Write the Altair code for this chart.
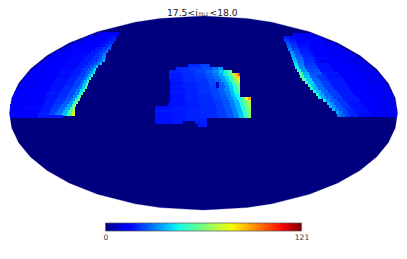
import altair as alt
import pandas as pd

# Colour map stops of the scale (fraction of the range, colour)
VMAX = 121
JET_T = [0, .11, .125, .34, .35, .375, .64, .66, .89, .91, 1]
JET_C = ["#000080", "#0000ff", "#0000ff", "#00dbff", "#00e6f7", "#14ffe3",
         "#f0ff08", "#ffed00", "#ff1200", "#e80000", "#800000"]

# Each row: first pixel line, then x, value, x, value, ..., last x
LEFT = [
 (32, 97,11,106,13,112,15,119),
 (35, 88,11,97,13,105,15,111,17,117),
 (38, 81,12,90,13,100,15,107,17,112,19,116),
 (41, 74,11,84,13,95,15,103,17,109,20,114),
 (44, 67,12,78,13,90,15,99,17,105,20,109,24,112),
 (47, 62,11,72,14,85,15,95,18,102,21,107,26,111),
 (50, 56,12,67,13,80,15,91,18,98,21,103,25,106,29,108),
 (53, 51,12,63,14,76,16,88,18,95,21,100,25,103,30,106),
 (56, 47,12,59,14,72,16,85,18,93,21,99,25,102,31,106),
 (59, 43,13,55,14,70,16,83,18,91,21,97,25,101,30,103,37,105),
 (62, 39,12,51,14,67,16,80,18,88,21,94,25,98,31,100,38,102),
 (65, 35,13,48,14,64,16,77,18,85,21,90,25,94,31,96,39,98),
 (68, 32,12,46,15,62,16,75,19,83,22,88,26,92,33,94,42,96),
 (71, 29,13,43,14,60,17,73,18,81,22,86,27,90,34,93,44,95),
 (74, 26,12,41,15,58,16,71,19,79,22,85,27,88,35,91,47,93),
 (77, 24,13,39,14,56,17,69,19,77,23,83,28,86,36,89,48,91),
 (80, 21,12,37,15,54,17,67,19,75,23,81,28,84,37,87,50,89),
 (83, 19,13,35,15,52,17,65,19,74,23,80,29,83,39,86,52,88),
 (86, 17,12,34,15,50,17,63,20,72,23,78,29,82,40,85,54,87),
 (89, 16,13,32,15,49,17,61,20,70,24,76,30,80,41,83,55,85),
 (92, 14,13,30,15,47,18,59,20,68,24,75,31,79,43,81,56,83),
 (95, 13,13,30,15,46,17,58,20,67,24,73,32,77,44,79,58,81),
 (98, 12,12,28,15,45,18,56,21,65,25,71,32,75,46,78,60,80),
 (101, 11,13,28,15,44,18,55,21,63,26,69,33,73,47,76,62,78),
 (104, 10,13,27,15,43,18,53,22,61,27,67,35,72,50,74,64,76),
 (107, 10,13,26,16,42,18,51,22,59,28,65,36,70,52,73,68,75),
 (110, 10,13,26,15,40,18,50,23,57,28,63,37,68,52,72,70,75),
 (113, 10,13,25,15,38,19,49,23,55,29,61,38,67,54,72,74,75),
 (115, 10,13,24,15,38,18,63),
]
RIGHT = [
 (33, 293,14,300,13,307,12,313),
 (36, 283,18,289,16,297,14,308,12,321),
 (39, 284,22,289,18,296,15,310,13,327),
 (42, 286,25,290,20,297,16,310,14,322,12,335),
 (45, 287,27,291,21,298,17,310,14,325,12,341),
 (48, 288,30,292,23,299,18,309,15,327,12,346),
 (51, 290,32,294,24,300,18,311,15,330,12,352),
 (54, 291,34,295,25,302,19,313,15,333,12,357),
 (57, 292,36,296,27,303,20,315,16,328,13,345,11,361),
 (60, 293,38,297,28,304,20,315,16,321,6,324,14,345,11,365),
 (63, 294,42,298,30,304,22,316,17,330,14,350,11,369),
 (66, 295,44,299,31,305,23,318,17,332,14,352,12,372),
 (69, 297,48,301,33,307,24,320,17,335,14,355,11,376),
 (72, 299,52,303,36,309,25,322,18,338,14,358,12,379),
 (75, 300,54,304,38,310,26,317,21,326,17,342,14,361,11,381),
 (78, 302,56,306,40,312,27,319,21,328,18,344,14,363,12,384),
 (81, 305,52,308,40,314,28,321,22,330,18,346,14,365,11,386),
 (84, 308,50,311,38,316,28,323,22,332,18,348,15,367,12,388),
 (87, 310,48,313,37,318,28,325,22,334,18,350,14,368,12,390),
 (90, 313,46,316,37,321,28,328,22,337,18,352,15,370,12,392),
 (93, 316,46,319,35,324,27,331,22,340,18,355,14,372,12,393),
 (96, 318,44,321,35,326,27,333,22,342,18,357,15,374,12,394),
 (99, 323,44,326,33,330,26,337,21,345,18,360,14,376,12,395),
 (102, 327,40,330,32,334,25,340,21,348,17,362,15,378,12,396),
 (105, 329,38,332,31,336,25,342,21,350,17,365,14,380,12,396),
 (108, 332,37,335,30,339,24,345,20,353,17,368,14,382,12,397),
 (111, 336,35,339,28,343,23,348,19,356,17,370,14,384,12,397),
 (114, 337,30,341,26,345,22,350,19,358,16,372,14,386,12,397),
]
CENTER = [
 (64, 188,20,200,23,210),
 (67, 176,20,190,22,202,24,212,28,218,33,223),
 (70, 169,19,182,21,195,23,206,27,213,32,219,39,224,48,229,58,232),
 (73, 169,18,181,20,194,22,205,25,212,29,218,35,223,44,228,56,232,70,235,85,238,102,240),
 (76, 169,18,183,20,196,22,207,25,214,28,220,34,225,42,229,52,233,65,236,82,240),
 (79, 170,18,182,20,195,21,208,24,215,27,221,33,226,40,230,50,234,62,238,74,240),
 (82, 170,17,184,19,197,21,209,24,216,7,219,27,224,33,228,40,232,50,236,62,240),
 (85, 170,18,183,19,196,21,209,23,216,7,219,26,225,32,229,39,233,48,237,60,240),
 (88, 170,17,185,19,198,21,210,23,218,26,224,31,229,38,233,47,237,57,240),
 (91, 170,18,184,19,197,21,211,23,219,26,225,30,230,37,234,46,238,55,240),
 (94, 170,17,185,19,198,20,212,23,220,26,226,30,231,37,235,44,239,52,240),
 (97, 170,17,184,19,199,20,213,23,221,25,228,31,233,38,237,46,241,60,245,76,248,88,251),
 (100, 170,17,185,19,198,20,214,22,222,25,229,30,234,37,239,47,243,60,247,70,251),
 (103, 168,17,184,18,199,20,215,22,223,25,230,30,235,37,240,47,244,58,248,66,251),
 (106, 155,17,172,18,186,19,201,20,216,22,224,25,231,30,236,37,241,47,245,58,249,66,251),
 (109, 155,18,171,18,187,19,200,20,217,22,225,25,232,30,237,37,242,48,246,58,250,68,251),
 (112, 155,17,173,18,186,19,201,20,217,22,226,25,233,30,238,38,243,48,247,60,251),
 (115, 155,17,172,18,187,19,200,20,218,22,227,25,234,30,239,38,244,50,248,62,251),
 (118, 155,17,172,18,186,19,207),
 (121, 155,17,172,18,183),
 (121, 195,18,207),
 (124, 198,18,207),
]
TITLE_MAIN = "17.5<i"
TITLE_SUB = "fib2"
TITLE_END = "<18.0"
CBAR_TICKS = [0, VMAX]

def cells(rows):
    out = []
    for r in rows:
        y, rest = r[0], r[1:]
        for i in range(0, len(rest) - 1, 2):
            out.append({"x": rest[i], "x2": rest[i + 2], "y": y, "y2": y + 3, "v": rest[i + 1]})
    return out

df = pd.DataFrame(cells(LEFT) + cells(RIGHT) + cells(CENTER))

W, H = 391, 206
x_s = alt.Scale(domain=[8, 8 + W], nice=False, zero=False)
y_s = alt.Scale(domain=[8 + H, 8], nice=False, zero=False)

sphere = alt.Chart(alt.sphere()).mark_geoshape(fill="#00007f", stroke="#00007f", strokeWidth=0.3).project(
    type=alt.expr("'mollweide'"), scale=68.6, translate=[195.5, 105]
)

cols = alt.Chart(df).mark_rect(strokeWidth=0).encode(
    x=alt.X("x:Q", scale=x_s, axis=None),
    x2="x2:Q",
    y=alt.Y("y:Q", scale=y_s, axis=None),
    y2="y2:Q",
    color=alt.Color("v:Q", legend=None, scale=alt.Scale(
        domain=[t * VMAX for t in JET_T], range=JET_C, interpolate="rgb")),
)

one = pd.DataFrame({"a": [0]})
def txt(s, px, py, size, col="#1a1a1a"):
    return alt.Chart(one).mark_text(
        text=s, align="left", baseline="alphabetic", font="DejaVu Sans",
        fontSize=size, color=col
    ).encode(x=alt.value(px), y=alt.value(py))

top = alt.layer(
    sphere, cols,
    txt(TITLE_MAIN, 159, 7.5, 9.2),
    txt(TITLE_SUB, 190.5, 7.8, 5.2, "#444444"),
    txt(TITLE_END, 201.5, 7.5, 9.2),
).properties(width=W, height=H)

stops = [{"offset": t, "color": c} for t, c in zip(JET_T, JET_C)]
bar = alt.Chart(pd.DataFrame({"lo": [0], "hi": [VMAX]})).mark_rect(
    fill={"gradient": "linear", "x1": 0, "x2": 1, "y1": 0, "y2": 0, "stops": stops},
    stroke="#555555", strokeWidth=0.7,
).encode(
    x=alt.X("lo:Q", scale=alt.Scale(domain=[0, VMAX], nice=False, zero=False),
            axis=alt.Axis(values=CBAR_TICKS, title=None, domain=False, ticks=False, grid=False,
                          labelFont="DejaVu Sans", labelFontSize=7.5, labelColor="#333333",
                          labelPadding=2, labelFlush=False)),
    x2="hi:Q",
).properties(width=196, height=8)

chart = alt.vconcat(top, bar, spacing=9, center=True, bounds="flush").properties(
    padding=0
).configure_view(stroke=None)

chart.save("out.html", embed_options={"renderer": "svg", "actions": False})
